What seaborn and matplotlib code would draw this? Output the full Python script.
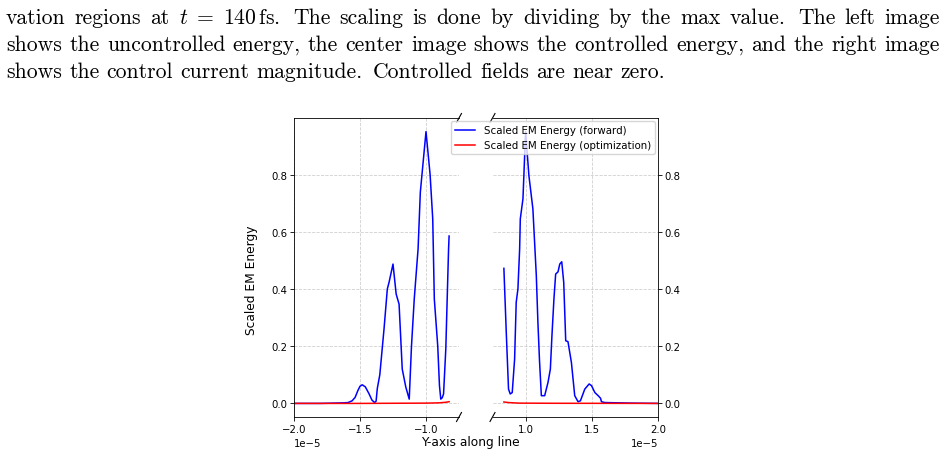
import numpy as np
import matplotlib
matplotlib.use("Agg")
import matplotlib.pyplot as plt
import seaborn as sns

# ── Data (x in units of 1e-5) ────────────────────────────────────────────────
left_x = [-2.0, -1.8, -1.7, -1.62, -1.59, -1.56, -1.537, -1.517, -1.5, -1.483,
          -1.46, -1.433, -1.41, -1.39, -1.378, -1.369, -1.35, -1.318, -1.293,
          -1.28, -1.25, -1.226, -1.204, -1.18, -1.153, -1.127, -1.11, -1.089,
          -1.06, -1.043, -1.0, -0.969, -0.949, -0.937, -0.911, -0.898, -0.888,
          -0.877, -0.867, -0.85, -0.829, -0.825]
left_fwd = [0.0, 0.0, 0.001, 0.002, 0.003, 0.009, 0.021, 0.044, 0.06, 0.065,
            0.058, 0.035, 0.012, 0.003, 0.008, 0.052, 0.1, 0.26, 0.40,
            0.423, 0.487, 0.382, 0.347, 0.12, 0.057, 0.015, 0.2, 0.365,
            0.54, 0.738, 0.95, 0.8, 0.645, 0.365, 0.2, 0.062, 0.015,
            0.02, 0.033, 0.19, 0.54, 0.585]
left_opt_x = [-2.0, -1.5, -1.0, -0.9, -0.85, -0.825]
left_opt = [0.0, 0.0, 0.001, 0.002, 0.004, 0.006]

right_x = [0.836, 0.854, 0.871, 0.884, 0.899, 0.917, 0.929, 0.942, 0.955, 0.96,
           0.98, 1.0, 1.025, 1.055, 1.081, 1.093, 1.105, 1.119, 1.144, 1.169,
           1.187, 1.199, 1.214, 1.227, 1.245, 1.258, 1.273, 1.288, 1.303, 1.32,
           1.346, 1.371, 1.396, 1.414, 1.447, 1.48, 1.498, 1.523, 1.548, 1.566,
           1.573, 1.598, 1.7, 1.8, 2.0]
right_fwd = [0.472, 0.248, 0.05, 0.033, 0.038, 0.155, 0.353, 0.40, 0.54, 0.645,
             0.715, 0.95, 0.796, 0.68, 0.446, 0.283, 0.15, 0.027, 0.027, 0.073,
             0.12, 0.237, 0.365, 0.452, 0.46, 0.487, 0.495, 0.423, 0.219, 0.216,
             0.143, 0.027, 0.006, 0.009, 0.05, 0.068, 0.062, 0.038, 0.027, 0.018,
             0.006, 0.003, 0.002, 0.001, 0.0]
right_opt_x = [0.836, 0.87, 0.95, 1.2, 2.0]
right_opt = [0.005, 0.003, 0.001, 0.0005, 0.0]

left_ticks = [-2.0, -1.5, -1.0]
right_ticks = [1.0, 1.5, 2.0]
y_ticks = [0.0, 0.2, 0.4, 0.6, 0.8]

caption = [
    "vation regions at $t$ = $140\\,\\mathrm{fs}$. The scaling is done by dividing by the max value. The left image",
    "shows the uncontrolled energy, the center image shows the controlled energy, and the right image",
    "shows the control current magnitude. Controlled fields are near zero.",
]

# ── Figure ────────────────────────────────────────────────────────────────────
plt.rcParams["mathtext.fontset"] = "cm"
W, H = 947, 456
fig = plt.figure(figsize=(W / 100, H / 100), dpi=100)

def box(x0, x1, y0, y1):
    return [x0 / W, 1 - y1 / H, (x1 - x0) / W, (y1 - y0) / H]

ax1 = fig.add_axes(box(294, 459, 119, 418))
ax2 = fig.add_axes(box(492.5, 658, 119, 418))

FS = 7.3      # ticks
LFS = 8.8     # axis labels
GFS = 7.4     # legend
BLUE, RED = "#0000ff", "#ff0000"
scale = 1e-5

sns.lineplot(x=np.array(left_x) * scale, y=left_fwd, ax=ax1, color=BLUE,
             linewidth=1.1, sort=False, estimator=None, legend=False)
sns.lineplot(x=np.array(left_opt_x) * scale, y=left_opt, ax=ax1, color=RED,
             linewidth=1.1, sort=False, estimator=None, legend=False)
sns.lineplot(x=np.array(right_x) * scale, y=right_fwd, ax=ax2, color=BLUE,
             linewidth=1.1, sort=False, estimator=None,
             label="Scaled EM Energy (forward)")
sns.lineplot(x=np.array(right_opt_x) * scale, y=right_opt, ax=ax2, color=RED,
             linewidth=1.1, sort=False, estimator=None,
             label="Scaled EM Energy (optimization)")

ax1.set_xlim(-2.0 * scale, -0.75 * scale)
ax2.set_xlim(0.75 * scale, 2.0 * scale)
for ax in (ax1, ax2):
    ax.set_ylim(-0.0475, 0.9975)
    ax.set_yticks(y_ticks)
    ax.set_xlabel("")
    ax.set_ylabel("")
    ax.grid(True, linestyle="--", color="#b0b0b0", alpha=0.6, linewidth=0.6)
    ax.tick_params(labelsize=FS, width=0.6, length=3.0)
    ax.tick_params(axis="y", pad=1.8)
    ax.tick_params(axis="x", pad=2.2)
    for s in ax.spines.values():
        s.set_linewidth(0.6)
    ax.xaxis.get_offset_text().set_fontsize(FS)

ax1.set_xticks(np.array(left_ticks) * scale)
ax2.set_xticks(np.array(right_ticks) * scale)
ax1.spines["right"].set_visible(False)
ax2.spines["left"].set_visible(False)
ax2.yaxis.tick_right()
ax1.xaxis.get_offset_text().set_x(0)
ax1.xaxis.get_offset_text().set_horizontalalignment("left")

ax2.legend(loc="upper right", fontsize=GFS, framealpha=0.8, borderaxespad=0.3)

# break marks
d = 0.015
kw = dict(color="k", clip_on=False, linewidth=0.8)
ax1.plot((1 - d, 1 + d), (-d, d), transform=ax1.transAxes, **kw)
ax1.plot((1 - d, 1 + d), (1 - d, 1 + d), transform=ax1.transAxes, **kw)
ax2.plot((-d, d), (-d, d), transform=ax2.transAxes, **kw)
ax2.plot((-d, d), (1 - d, 1 + d), transform=ax2.transAxes, **kw)

fig.text(251.5 / W, 1 - 280 / H, "Scaled EM Energy", rotation=90,
         ha="center", va="center", fontsize=LFS)
fig.text(470 / W, 1 - 443 / H, "Y-axis along line", ha="center",
         va="center", fontsize=LFS)

# ── Caption text (justified like the page) ───────────────────────────────────
CFS = 15.6
baselines = [24, 51, 78]
x_left, x_right = 6, 940
fig.canvas.draw()
r = fig.canvas.get_renderer()
em = CFS * 100 / 72
for i, line in enumerate(caption):
    words = line.split(" ")
    y = 1 - baselines[i] / H
    texts = [fig.text(0, y, w, fontsize=CFS, family="cmr10", va="baseline")
             for w in words]
    widths = [t.get_window_extent(r).width for t in texts]
    weights = [1.4 if w.endswith(".") else 1.0 for w in words[:-1]]
    if i < len(caption) - 1:
        unit = (x_right - x_left - sum(widths)) / sum(weights)
    else:
        unit = 0.333 * em
    x = x_left
    for t, wd, wt in zip(texts, widths, weights + [0]):
        t.set_x(x / W)
        x += wd + wt * unit

fig.savefig("out.png", dpi=100)
